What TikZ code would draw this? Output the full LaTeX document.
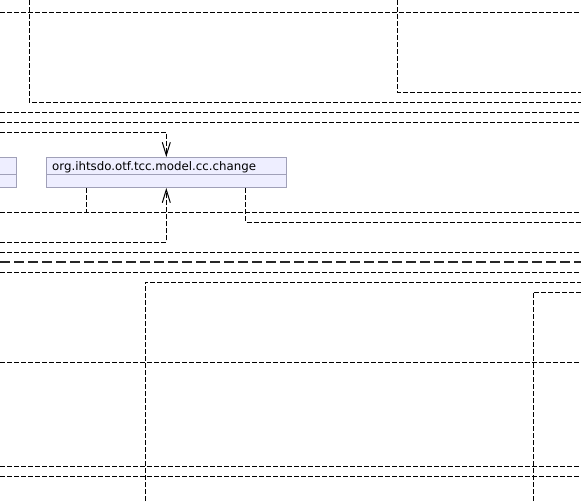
\documentclass[tikz,border=0pt]{standalone}
\usepackage{fontspec}
\setmainfont{DejaVu Sans}
\usetikzlibrary{arrows.meta}
\definecolor{boxfill}{HTML}{EEEEFF}
\definecolor{boxline}{HTML}{A0A0B8}
\tikzset{
  dep/.style={draw=black, line width=1pt, dash pattern=on 5pt off 2pt},
  thickdep/.style={draw=black!85, line width=2pt, dash pattern=on 10pt off 4pt},
  openarrow/.style={-{Straight Barb[length=13pt,width=8pt,line width=1pt]}},
  classbox/.style={draw=boxline, fill=boxfill, line width=1pt, inner sep=0pt, anchor=north west},
  classname/.style={anchor=base west, inner sep=0pt, font=\fontsize{11.8}{14}\selectfont},
}
\begin{document}
\begin{tikzpicture}[x=1pt,y=-1pt]
\useasboundingbox (0,0) rectangle (581,501);
\clip (0,0) rectangle (581,501);

% class boxes
\node[classbox, minimum width=100pt, minimum height=30pt] (lbox) at (-84,157) {};
\draw[boxline, line width=1pt] (lbox.west |- 0,174) -- (lbox.east |- 0,174);
\node[classbox, minimum width=239.7pt, minimum height=30pt] (chg) at (46,157) {};
\draw[boxline, line width=1pt] (chg.west |- 0,174) -- (chg.east |- 0,174);
\node[classname] (chgname) at (52,170) {org.ihtsdo.otf.tcc.model.cc.change};

% edge coordinates
\coordinate (l12) at (0,12);   \coordinate (r12) at (581,12);
\coordinate (t29) at (29.3,0); \coordinate (c29) at (29.3,102); \coordinate (r102) at (581,102);
\coordinate (t397) at (397,0); \coordinate (c397) at (397,92); \coordinate (r92) at (581,92);
\coordinate (l112) at (0,112); \coordinate (r112) at (581,112);
\coordinate (l122) at (0,122); \coordinate (r122) at (581,122);
\coordinate (l132) at (0,132); \coordinate (a1) at (166.3,132);
\coordinate (c86) at (86.7,212);
\coordinate (l212) at (0,212); \coordinate (r212) at (581,212);
\coordinate (c245) at (245.7,222); \coordinate (r222) at (581,222);
\coordinate (l242) at (0,242); \coordinate (a2) at (166.3,242);
\coordinate (l252) at (0,252); \coordinate (r252) at (581,252);
\coordinate (l262) at (0,262); \coordinate (r262) at (581,262);
\coordinate (l272) at (0,272); \coordinate (r272) at (581,272);
\coordinate (b145) at (145,501); \coordinate (c145) at (145,282); \coordinate (r282) at (581,282);
\coordinate (b533) at (533,501); \coordinate (c533) at (533,292); \coordinate (r292) at (581,292);
\coordinate (l362) at (0,362); \coordinate (r362) at (581,362);
\coordinate (l467) at (0,466.7); \coordinate (r467) at (581,466.7);
\coordinate (l477) at (0,476.7); \coordinate (r477) at (581,476.7);

% connectors
\draw[dep] (l12) -- (r12);
\draw[dep] (t29) -- (c29) -- (r102);
\draw[dep] (t397) -- (c397) -- (r92);
\draw[dep] (l112) -- (r112);
\draw[dep] (l122) -- (r122);
\draw[dep, openarrow] (l132) -- (a1) -- (a1 |- chg.north);
\draw[dep] (c86 |- chg.south) -- (c86);
\draw[dep] (l212) -- (r212);
\draw[dep] (c245 |- chg.south) -- (c245) -- (r222);
\draw[dep, openarrow] (l242) -- (a2) -- (a2 |- chg.south);
\draw[dep] (l252) -- (r252);
\draw[thickdep] (l262) -- (r262);
\draw[dep] (l272) -- (r272);
\draw[dep] (b145) -- (c145) -- (r282);
\draw[dep] (b533) -- (c533) -- (r292);
\draw[dep] (l362) -- (r362);
\draw[dep] (l467) -- (r467);
\draw[dep] (l477) -- (r477);
\end{tikzpicture}
\end{document}
